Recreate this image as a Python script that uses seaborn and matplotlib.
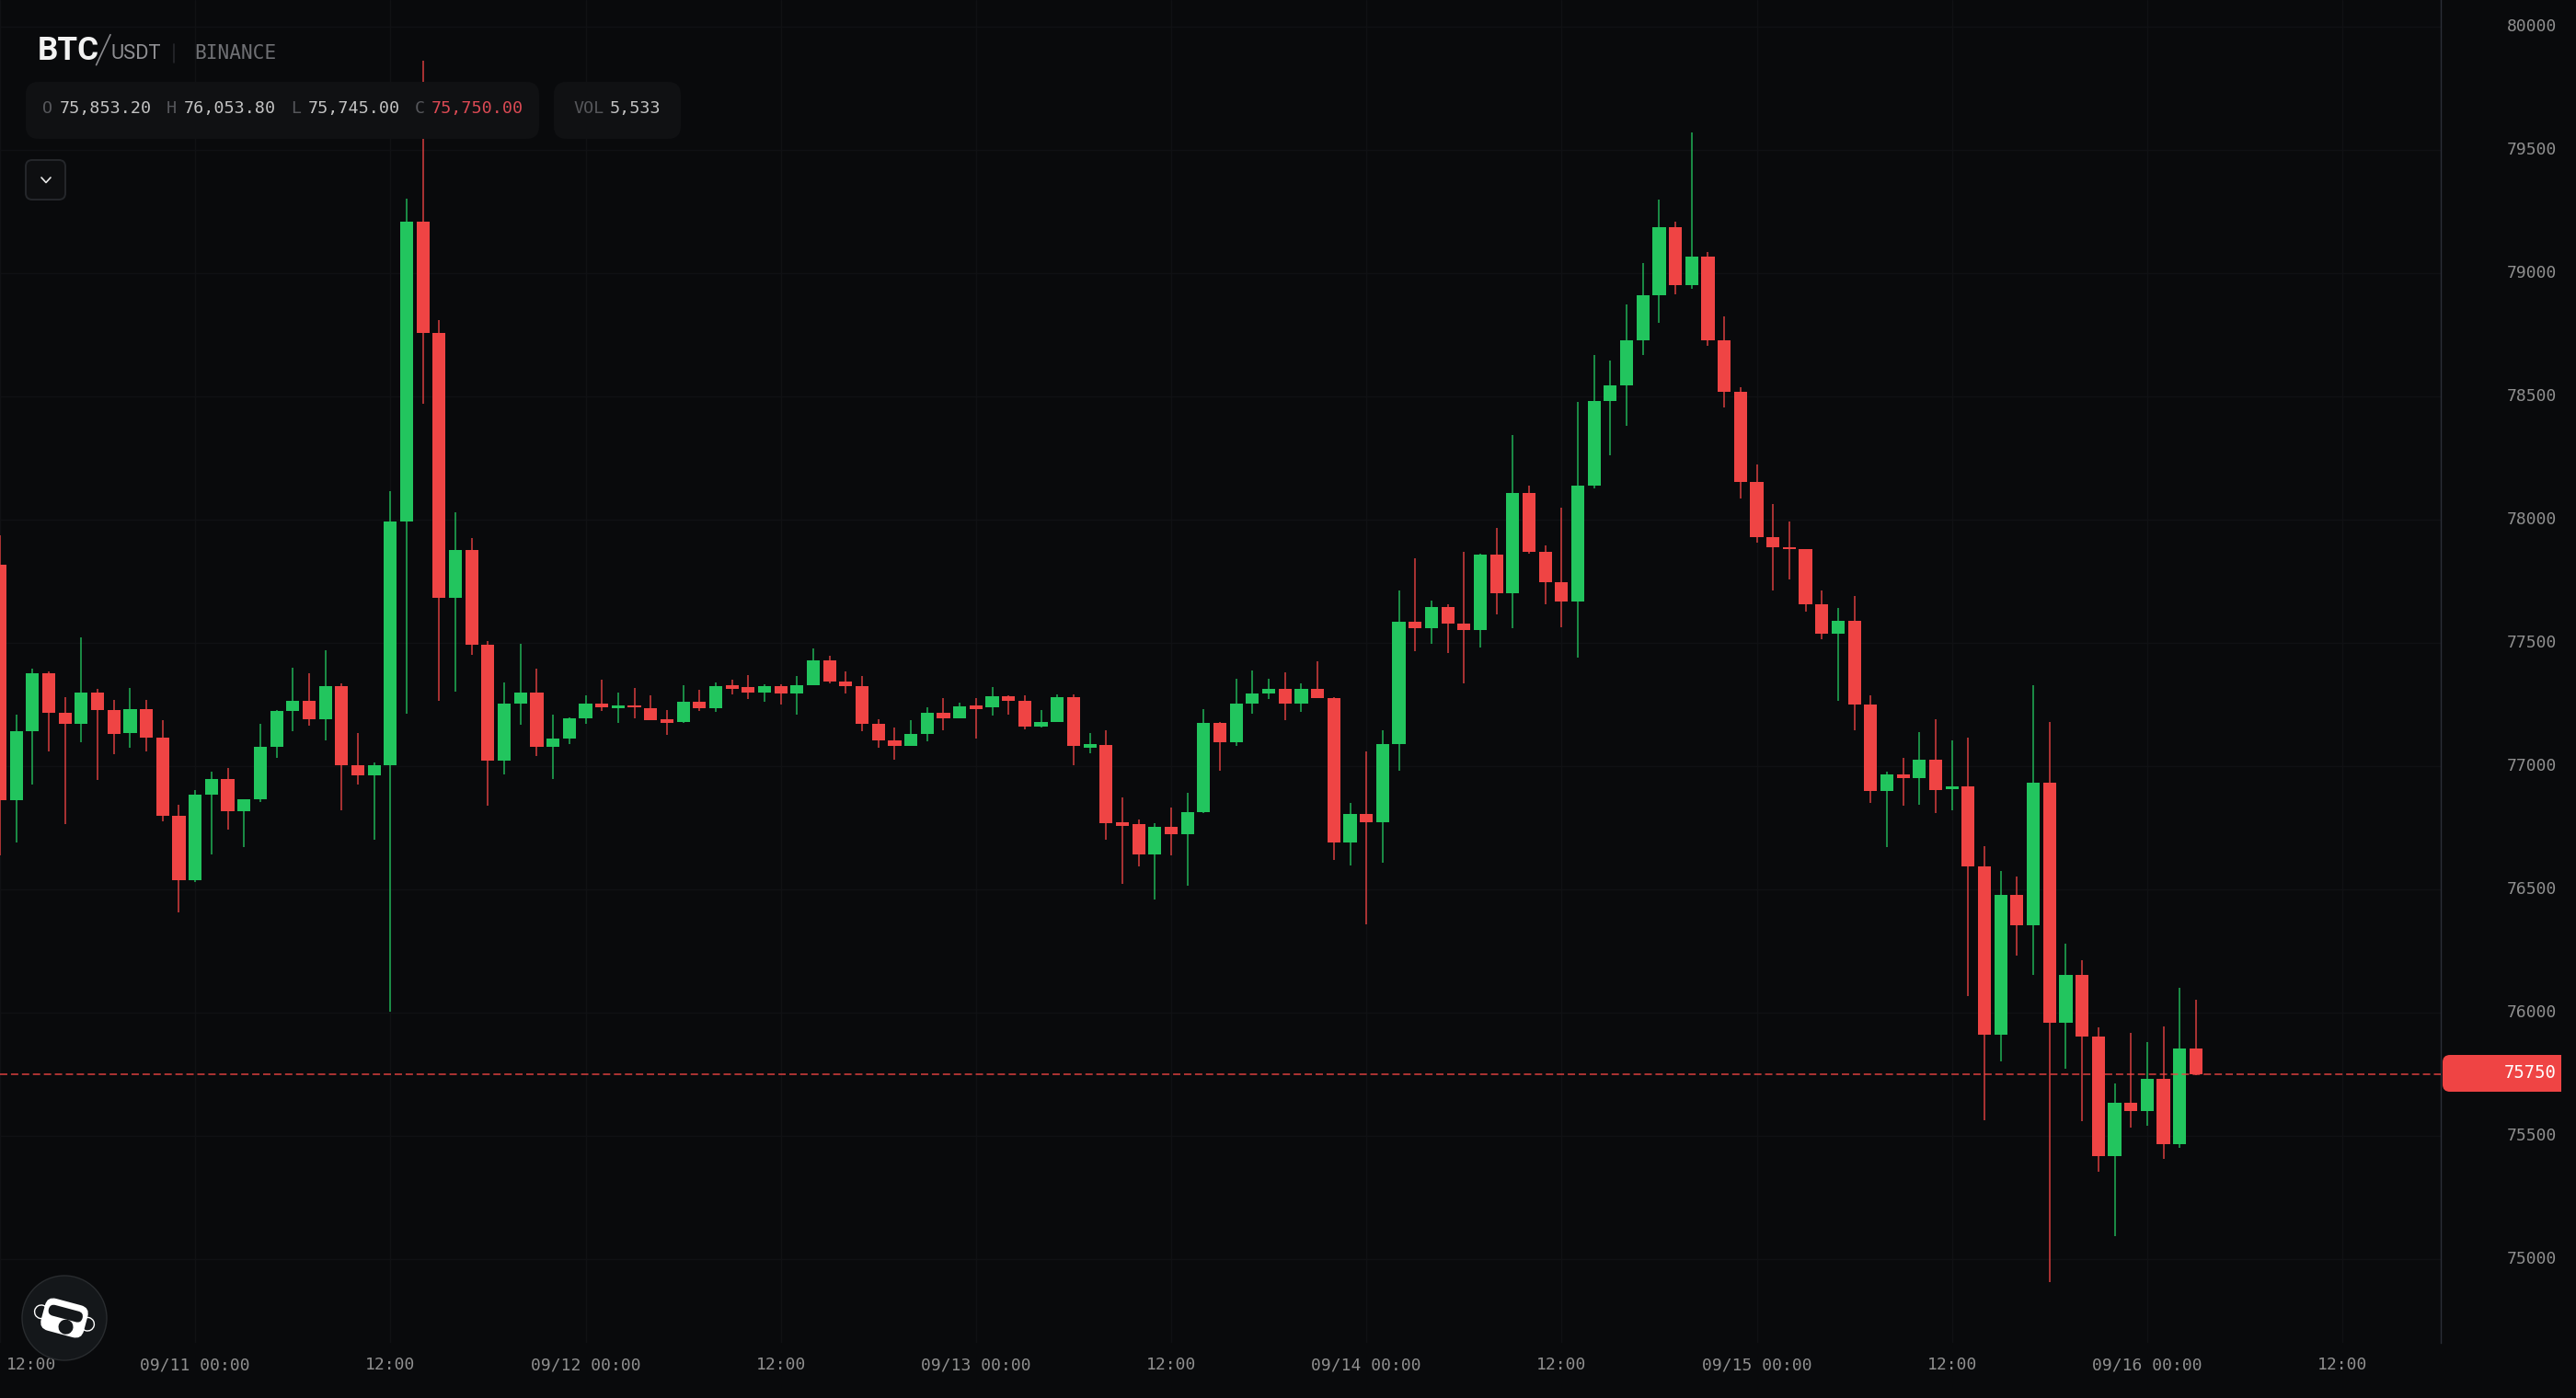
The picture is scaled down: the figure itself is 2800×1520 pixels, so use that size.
import numpy as np
import pandas as pd
import matplotlib
matplotlib.use('Agg')
import matplotlib.pyplot as plt
import seaborn as sns
from matplotlib.patches import FancyBboxPatch, Rectangle, Circle
from matplotlib.transforms import Affine2D, ScaledTranslation

# ── DATA ─────────────────────────────────────────────────────────────────────
open_px = [
    77818, 76862, 77140, 77378, 77218, 77173, 77297, 77226, 77133, 77233,
    77115, 76798, 76538, 76883, 76949, 76816, 76864, 77077, 77224, 77266,
    77189, 77326, 77003, 76961, 77003, 77993, 79209, 78757, 77684, 77875,
    77494, 77021, 77252, 77297, 77080, 77111, 77193, 77252, 77235, 77248,
    77236, 77191, 77180, 77262, 77236, 77329, 77322, 77299, 77325, 77296,
    77329, 77430, 77344, 77325, 77172, 77105, 77082, 77131, 77217, 77195,
    77247, 77239, 77284, 77266, 77161, 77180, 77281, 77075, 77086, 76772,
    76764, 76641, 76753, 76723, 76813, 77176, 77097, 77254, 77296, 77314,
    77254, 77314, 77277, 76690, 76806, 76772, 77090, 77584, 77561, 77647,
    77580, 77554, 77857, 77703, 78108, 77868, 77748, 77666, 78138, 78481,
    78545, 78728, 78910, 79187, 78952, 79067, 78728, 78519, 78153, 77929,
    77888, 77879, 77658, 77539, 77591, 77251, 76898, 76967, 76953, 77027,
    76905, 76918, 76593, 75910, 76477, 76353, 76933, 75958, 76152, 75902,
    75417, 75633, 75600, 75733, 75465, 75853.2]
close_px = [
    76862, 77140, 77378, 77218, 77173, 77297, 77226, 77129, 77233, 77115,
    76798, 76538, 76883, 76949, 76816, 76864, 77077, 77224, 77266, 77189,
    77326, 77003, 76961, 77003, 77993, 79209, 78757, 77684, 77875, 77494,
    77021, 77252, 77297, 77080, 77111, 77193, 77252, 77237, 77248, 77238,
    77187, 77176, 77262, 77236, 77325, 77314, 77299, 77325, 77296, 77329,
    77430, 77344, 77325, 77172, 77105, 77082, 77131, 77217, 77195, 77243,
    77232, 77284, 77266, 77161, 77180, 77281, 77082, 77090, 76768, 76757,
    76641, 76753, 76723, 76813, 77176, 77097, 77254, 77296, 77314, 77254,
    77314, 77277, 76690, 76806, 76772, 77090, 77584, 77561, 77647, 77580,
    77554, 77857, 77703, 78108, 77868, 77748, 77666, 78138, 78481, 78545,
    78728, 78910, 79187, 78952, 79067, 78728, 78519, 78153, 77929, 77888,
    77879, 77658, 77539, 77591, 77251, 76898, 76967, 76953, 77027, 76903,
    76918, 76593, 75910, 76477, 76353, 76933, 75958, 76152, 75902, 75417,
    75633, 75600, 75733, 75465, 75853, 75750]
high_px = [
    77937, 77208, 77394, 77384, 77281, 77521, 77314, 77270, 77318, 77270,
    77185, 76842, 76904, 76979, 76991, 76864, 77171, 77229, 77401, 77376,
    77471, 77334, 77133, 77016, 78115, 79302, 79862, 78809, 78030, 77925,
    77507, 77341, 77498, 77397, 77210, 77197, 77289, 77349, 77297, 77316,
    77288, 77228, 77329, 77310, 77339, 77352, 77370, 77333, 77333, 77367,
    77479, 77449, 77385, 77367, 77191, 77157, 77187, 77239, 77277, 77258,
    77277, 77322, 77288, 77288, 77228, 77292, 77292, 77135, 77146, 76873,
    76783, 76768, 76832, 76892, 77232, 77180, 77355, 77389, 77355, 77382,
    77337, 77426, 77280, 76850, 77060, 77146, 77711, 77842, 77673, 77658,
    77868, 77860, 77965, 78343, 78138, 77894, 78048, 78477, 78668, 78646,
    78873, 79041, 79299, 79209, 79571, 79086, 78825, 78537, 78224, 78063,
    77993, 77880, 77714, 77643, 77692, 77287, 76977, 77033, 77138, 77190,
    77105, 77115, 76675, 76573, 76552, 77328, 77178, 76280, 76212, 75940,
    75712, 75917, 75880, 75943, 76100, 76053.8]
low_px = [
    76638, 76692, 76924, 77061, 76764, 77096, 76944, 77047, 77073, 77059,
    76775, 76406, 76529, 76641, 76742, 76670, 76854, 77032, 77140, 77163,
    77103, 76819, 76924, 76700, 76003, 77214, 78470, 77264, 77301, 77453,
    76838, 76968, 77167, 77040, 76947, 77088, 77173, 77222, 77177, 77194,
    77185, 77128, 77176, 77224, 77221, 77292, 77273, 77262, 77251, 77210,
    77329, 77337, 77296, 77142, 77075, 77026, 77082, 77101, 77146, 77195,
    77112, 77206, 77210, 77150, 77157, 77180, 77004, 77052, 76701, 76521,
    76592, 76458, 76637, 76514, 76809, 76981, 77082, 77213, 77273, 77187,
    77221, 77275, 76618, 76596, 76358, 76607, 76981, 77468, 77498, 77460,
    77337, 77483, 77614, 77561, 77860, 77655, 77565, 77441, 78127, 78261,
    78381, 78668, 78799, 78914, 78937, 78705, 78455, 78086, 77907, 77711,
    77759, 77625, 77513, 77266, 77146, 76850, 76673, 76840, 76843, 76810,
    76820, 76068, 75562, 75802, 76230, 76152, 74908, 75772, 75558, 75353,
    75092, 75533, 75540, 75405, 75452, 75745]

y_ticks = [75000, 75500, 76000, 76500, 77000, 77500, 78000, 78500, 79000, 79500, 80000]
x_tick_pos = [0, 12, 24, 36, 48, 60, 72, 84, 96, 108, 120, 132, 144]
x_tick_labels = ['12:00', '09/11 00:00', '12:00', '09/12 00:00', '12:00', '09/13 00:00',
                 '12:00', '09/14 00:00', '12:00', '09/15 00:00', '12:00', '09/16 00:00', '12:00']

ohlc_items = [('O', '75,853.20'), ('H', '76,053.80'), ('L', '75,745.00'), ('C', '75,750.00')]
volume_text = '5,533'

# ── STYLE ────────────────────────────────────────────────────────────────────
BG = '#090a0c'
GREEN = '#22c55e'
RED = '#ef4444'
GRID = '#101114'
MONO = 'DejaVu Sans Mono'

sns.set_theme(style='dark', rc={'axes.facecolor': BG, 'figure.facecolor': BG,
                                'savefig.facecolor': BG, 'axes.grid': True})
plt.rcParams['font.family'] = [MONO, 'DejaVu Sans']

df = pd.DataFrame({'idx': np.arange(len(open_px)), 'open': open_px, 'close': close_px,
                   'high': high_px, 'low': low_px})
df['body'] = (df['close'] - df['open']).abs()
df['base'] = df[['open', 'close']].min(axis=1)
df['up'] = df['close'] >= df['open']

fig = plt.figure(figsize=(14, 7.6), dpi=200)
W, H = 2800, 1520
# plot area runs from the left edge to the price scale rule, above the time labels
ax = fig.add_axes([0, 1 - 1460 / H, 2653 / W, 1460 / H])

# wicks first, bodies on top
for up, color in [(True, GREEN), (False, RED)]:
    sub = df[df['up'] == up]
    ax.vlines(sub['idx'], sub['low'], sub['high'], color=color, lw=0.6, alpha=0.82, zorder=2)
    sns.barplot(data=sub, x='idx', y='body', bottom=sub['base'].values, color=color,
                saturation=1, native_scale=True, width=0.8, errorbar=None,
                linewidth=0, zorder=3, ax=ax)

ax.axhline(close_px[-1], color=RED, lw=0.55, dashes=(5.2, 2.6), alpha=0.9, zorder=4)

ax.set_xlim(0, 150.05)
ax.set_ylim(74660.5, 80108)
ax.set_xlabel('')
ax.set_ylabel('')
ax.set_axisbelow(True)
ax.grid(True, color=GRID, lw=0.5)
ax.set_yticks(y_ticks)
ax.set_xticks(x_tick_pos)
ax.set_xticklabels(x_tick_labels)
ax.yaxis.tick_right()
ax.tick_params(axis='y', length=0, pad=45.4, labelsize=6.5, labelcolor='#8f8f8f')
ax.tick_params(axis='x', length=0, pad=5.5, labelsize=6.5, labelcolor='#8f8f8f')
up_shift = ScaledTranslation(0, 2 / 200, fig.dpi_scale_trans)
for lab in ax.get_yticklabels():
    lab.set_ha('right')
    lab.set_transform(lab.get_transform() + up_shift)
# the first time label is pushed inside the canvas
first = ax.get_xticklabels()[0]
first.set_ha('left')
first.set_transform(first.get_transform() + ScaledTranslation(7 / 200, 0, fig.dpi_scale_trans))
for name, spine in ax.spines.items():
    spine.set_visible(name == 'right')
ax.spines['right'].set_color('#2b2e38')
ax.spines['right'].set_linewidth(0.5)

# ── OVERLAY (pixel coordinates, y down) ──────────────────────────────────────
ov = fig.add_axes([0, 0, 1, 1], zorder=10)
ov.set_xlim(0, W)
ov.set_ylim(H, 0)
ov.axis('off')
ov.patch.set_alpha(0)


def pill(x0, y0, x1, y1, r, face, edge='none', lw=0.0):
    ov.add_patch(FancyBboxPatch((x0 + r, y0 + r), x1 - x0 - 2 * r, y1 - y0 - 2 * r,
                                boxstyle=f'round,pad={r},rounding_size={r}',
                                fc=face, ec=edge, lw=lw))


# title
ov.text(41, 65, 'BTC', family='Roboto', fontsize=12.6, weight='bold', color='#f2f2f2', va='baseline')
ov.plot([104.6, 120], [70.7, 37.7], color='#8a8a8e', lw=0.6)
ov.text(121, 64, 'USDT', family='Roboto', fontsize=7.9, color='#8e8e92', va='baseline')
ov.plot([189, 189], [48, 68], color='#26282c', lw=0.6)
ov.text(211, 64, 'BINANCE', family=MONO, fontsize=7.6, color='#6f7074', va='baseline')

# O H L C and volume boxes
pill(28, 89, 586, 151, 14, '#101113')
pill(602, 89, 740, 151, 14, '#101113')
label_x = [46, 181, 316, 450.5]
value_x = [65, 200, 335, 469]
for (lab, val), lx, vx in zip(ohlc_items, label_x, value_x):
    ov.text(lx, 118, lab, fontsize=6.6, color='#56575b', va='center')
    ov.text(vx, 118, val, fontsize=6.6, color='#dc4a54' if lab == 'C' else '#c4c4c4', va='center')
ov.text(623, 118, 'VOL', fontsize=6.6, color='#56575b', va='center')
ov.text(663, 118, volume_text, fontsize=6.6, color='#c4c4c4', va='center')

# collapse button
pill(28, 174, 71, 217, 7, '#0e0f11', edge='#25272b', lw=0.7)
ov.plot([45, 50, 55], [193, 198.5, 193], color='#e8e8e8', lw=0.6)

# last price tag, placed from the last close
tag_y = H - ax.transData.transform((0, close_px[-1]))[1]
pill(2655, tag_y - 21, 2740, tag_y + 19, 8, RED)
ov.add_patch(Rectangle((2700, tag_y - 21), 84, 40, fc=RED, ec='none'))
ov.text(2779, tag_y - 2, f'{close_px[-1]:.0f}', fontsize=6.8, color='white', ha='right', va='center')

# logo
cx, cy = 70, 1433
ov.add_patch(Circle((cx, cy), 46, fc='#14171a', ec='#292c2f', lw=0.5))
tilt = Affine2D().rotate_deg_around(cx, cy, 15) + ov.transData
for ex in [cx - 26, cx + 26]:
    ov.add_patch(Circle((ex, cy), 7.3, fc='none', ec='white', lw=0.5, transform=tilt))
ov.add_patch(FancyBboxPatch((cx - 21, cy - 15), 42, 30, boxstyle='round,pad=3,rounding_size=10',
                            fc='white', ec='none', transform=tilt))
ov.add_patch(FancyBboxPatch((cx - 15, cy - 7), 30, 4, boxstyle='round,pad=4,rounding_size=6',
                            fc='#14171a', ec='none', transform=tilt))
ov.add_patch(Circle((cx + 4, cy + 9), 8, fc='#14171a', ec='none', transform=tilt))

plt.savefig('out.png', dpi=200)
plt.close()
